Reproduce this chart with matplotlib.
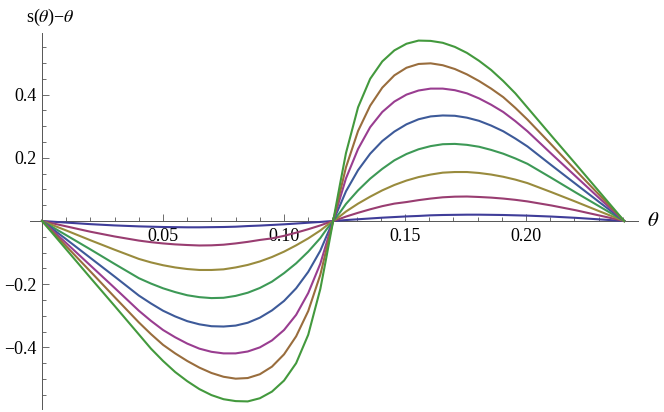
import matplotlib
matplotlib.use("Agg")
import matplotlib.pyplot as plt
from matplotlib.ticker import FixedLocator

plt.rcParams['font.family'] = ['Liberation Serif', 'DejaVu Serif']
plt.rcParams['mathtext.fontset'] = 'stix'

theta = [0.0, 0.01, 0.02, 0.03, 0.04, 0.045, 0.05, 0.055, 0.06, 0.065, 0.07, 0.075,
         0.08, 0.085, 0.09, 0.095, 0.10, 0.105, 0.11, 0.115, 0.1175, 0.1203,
         0.1231, 0.1256, 0.1306, 0.1356, 0.1406, 0.1456, 0.1506, 0.1556, 0.1606,
         0.1656, 0.1706, 0.1756, 0.1806, 0.1856, 0.1906, 0.1956, 0.2006, 0.2106,
         0.2206, 0.2306, 0.2406]

# s(theta) - theta, smallest to largest amplitude
c1 = [0, -0.005, -0.010, -0.014, -0.017, -0.018, -0.019, -0.0195, -0.020, -0.020, -0.0195, -0.019,
      -0.018, -0.016, -0.0145, -0.0125, -0.0105, -0.008, -0.0055, -0.003, -0.0015, 0,
      0.0015, 0.003, 0.0055, 0.008, 0.0105, 0.0125, 0.0145, 0.016, 0.018,
      0.019, 0.0195, 0.020, 0.020, 0.0195, 0.019, 0.018, 0.017, 0.014,
      0.010, 0.005, 0]
c2 = [0, -0.017, -0.034, -0.049, -0.062, -0.067, -0.071, -0.074, -0.076, -0.0775, -0.077, -0.075,
      -0.071, -0.066, -0.060, -0.055, -0.047, -0.037, -0.026, -0.014, -0.007, 0,
      0.007, 0.014, 0.026, 0.037, 0.047, 0.055, 0.060, 0.066, 0.071,
      0.075, 0.077, 0.0775, 0.076, 0.074, 0.071, 0.067, 0.062, 0.049,
      0.034, 0.017, 0]
c3 = [0, -0.030, -0.061, -0.091, -0.120, -0.131, -0.140, -0.147, -0.152, -0.155, -0.155, -0.153,
      -0.147, -0.139, -0.128, -0.114, -0.097, -0.077, -0.055, -0.030, -0.015, 0,
      0.015, 0.030, 0.055, 0.077, 0.097, 0.114, 0.128, 0.139, 0.147,
      0.153, 0.155, 0.155, 0.152, 0.147, 0.140, 0.131, 0.120, 0.091,
      0.061, 0.030, 0]
c4 = [0, -0.045, -0.090, -0.136, -0.181, -0.198, -0.213, -0.225, -0.235, -0.241, -0.244, -0.243,
      -0.237, -0.227, -0.212, -0.192, -0.165, -0.134, -0.097, -0.054, -0.027, 0,
      0.027, 0.054, 0.097, 0.134, 0.165, 0.192, 0.212, 0.227, 0.237,
      0.243, 0.244, 0.241, 0.235, 0.225, 0.213, 0.198, 0.181, 0.136,
      0.090, 0.045, 0]
c5 = [0, -0.058, -0.117, -0.176, -0.236, -0.261, -0.284, -0.302, -0.317, -0.327, -0.333, -0.334,
      -0.331, -0.322, -0.306, -0.283, -0.253, -0.213, -0.161, -0.094, -0.049, 0,
      0.049, 0.094, 0.161, 0.213, 0.253, 0.283, 0.306, 0.322, 0.331,
      0.334, 0.333, 0.327, 0.317, 0.302, 0.284, 0.261, 0.236, 0.176,
      0.117, 0.058, 0]
c6 = [0, -0.070, -0.141, -0.212, -0.284, -0.316, -0.345, -0.368, -0.388, -0.404, -0.414, -0.419,
      -0.419, -0.413, -0.400, -0.378, -0.345, -0.297, -0.228, -0.135, -0.071, 0,
      0.071, 0.135, 0.228, 0.297, 0.345, 0.378, 0.400, 0.413, 0.419,
      0.419, 0.414, 0.404, 0.388, 0.368, 0.345, 0.316, 0.284, 0.212,
      0.141, 0.070, 0]
c7 = [0, -0.080, -0.160, -0.241, -0.321, -0.358, -0.392, -0.419, -0.443, -0.464, -0.481, -0.493,
      -0.499, -0.497, -0.485, -0.461, -0.422, -0.365, -0.285, -0.170, -0.090, 0,
      0.090, 0.170, 0.285, 0.365, 0.422, 0.461, 0.485, 0.497, 0.499,
      0.493, 0.481, 0.464, 0.443, 0.419, 0.392, 0.358, 0.321, 0.241,
      0.160, 0.080, 0]
c8 = [0, -0.090, -0.180, -0.269, -0.359, -0.404, -0.443, -0.478, -0.507, -0.532, -0.551, -0.564,
      -0.570, -0.571, -0.561, -0.540, -0.505, -0.450, -0.360, -0.215, -0.115, 0,
      0.115, 0.215, 0.360, 0.450, 0.505, 0.540, 0.561, 0.571, 0.570,
      0.564, 0.551, 0.532, 0.507, 0.478, 0.443, 0.404, 0.359, 0.269,
      0.180, 0.090, 0]
curves = [c1, c2, c3, c4, c5, c6, c7, c8]

xticks = [0.05, 0.10, 0.15, 0.20]
xticklabels = ["0.05", "0.10", "0.15", "0.20"]
yticks = [-0.4, -0.2, 0.2, 0.4]
yticklabels = ["\u22120.4", "\u22120.2", "0.2", "0.4"]

# old mathematica default plot colors
colors = [(0.2472, 0.24, 0.6), (0.6, 0.24, 0.4429), (0.6, 0.547, 0.24),
          (0.24, 0.6, 0.3369), (0.24, 0.3532, 0.6), (0.6, 0.24, 0.5633),
          (0.6, 0.4266, 0.24), (0.2638, 0.6, 0.24)]

fig = plt.figure(figsize=(6.64, 4.12), dpi=100)
ax = fig.add_axes([30/664, 3/412, 608/664, 376/412])

for ys, col in zip(curves, colors):
    ax.plot(theta, ys, color=col, lw=1.5, zorder=3, solid_joinstyle='round')

ax.set_xlim(-0.005, 0.2463)
ax.set_ylim(-0.595, 0.595)

axis_col = '#555555'
ax.spines['left'].set_position(('data', 0))
ax.spines['bottom'].set_position(('data', 0))
ax.spines['right'].set_visible(False)
ax.spines['top'].set_visible(False)
for s in ['left', 'bottom']:
    ax.spines[s].set_color(axis_col)
    ax.spines[s].set_linewidth(0.7)

ax.set_xticks(xticks)
ax.set_xticklabels(xticklabels)
ax.set_yticks(yticks)
ax.set_yticklabels(yticklabels)
xminor = [i / 100 for i in range(1, 25) if i % 5 != 0]
yminor = [i / 20 for i in range(-11, 12) if i % 4 != 0]
ax.xaxis.set_minor_locator(FixedLocator(xminor))
ax.yaxis.set_minor_locator(FixedLocator(yminor))

ax.tick_params(which='both', direction='in', color=axis_col, width=0.6, labelsize=13)
ax.tick_params(which='major', length=4.8)
ax.tick_params(which='minor', length=2.6)
ax.tick_params(axis='x', which='major', pad=5.0)
ax.tick_params(axis='y', which='major', pad=4.0)

fig.text(50/664, 1 - 17/412, "s($\\theta$)\u2212$\\theta$", ha='center', va='center', fontsize=13)
fig.text(653/664, 1 - 221/412, "$\\theta$", ha='center', va='center', fontsize=15)

fig.savefig("out.png", dpi=100)
